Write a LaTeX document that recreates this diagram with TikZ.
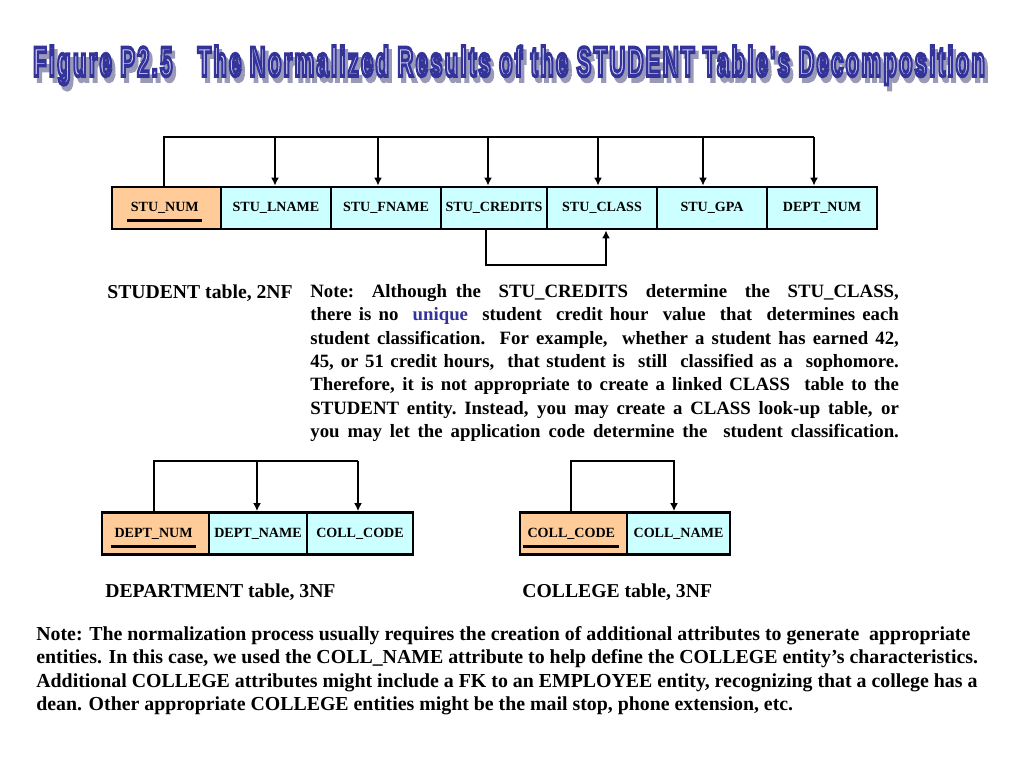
\documentclass[tikz,border=0pt]{standalone}
\usepackage{fontspec}
\setmainfont{Liberation Serif}
\newfontfamily\titlefont[LetterSpace=10]{Liberation Sans}
\usetikzlibrary{arrows.meta}

\definecolor{keyfill}{HTML}{FFCC99}
\definecolor{attrfill}{HTML}{CCFFFF}
\definecolor{titleblue}{HTML}{333399}

\newlength{\keywd}
\newcommand{\pkey}[1]{\settowidth{\keywd}{#1}#1\hspace{-1.05\keywd}\smash{\rule[-6pt]{1.1\keywd}{1.7pt}}\hspace{-0.05\keywd}}
\newcommand{\jline}[1]{\hbox to 335pt{\spaceskip=0.25em plus 1fil\xspaceskip=0.25em plus 1fil #1}}
% outlined text: fill colour, stroke colour (pdf rgb), text
\newcommand{\outlined}[3]{\special{pdf:literal direct q 2 Tr 0.9 w #2 RG #1 rg}#3\special{pdf:literal direct Q}}
\newcommand{\figtitle}{Figure P2.5\ \ \ The Normalized Results of the STUDENT Table's Decomposition}

\begin{document}
\begin{tikzpicture}[x=0.02cm,y=-0.02cm,
    cell/.style={draw, line width=1.6pt, minimum width=#1*0.02cm, minimum height=0.84cm,
                 inner sep=0pt, font=\fontsize{8}{9.6}\selectfont\bfseries},
    keycell/.style={cell=#1, fill=keyfill},
    attcell/.style={cell=#1, fill=attrfill},
    fdline/.style={line width=1.6pt},
    fd/.style={fdline, -{Latex[length=4.5pt,width=4.5pt]}},
    caption/.style={anchor=base west, inner sep=0pt, font=\fontsize{11.2}{13.4}\selectfont\bfseries},
    notetext/.style={anchor=north west, inner sep=0pt, align=left, font=\fontsize{10.7}{13.3}\selectfont\bfseries}]

    \useasboundingbox (0,0) rectangle (1024,768);

    % title
    \node[anchor=base, inner sep=0pt] at (509,76) (title)
        {\resizebox{19.04cm}{0.6cm}{\titlefont\bfseries
         \makebox[0pt][l]{\hspace{1.5pt}\raisebox{-1.2pt}{\outlined{0.6 0.6 0.72}{0.6 0.6 0.72}{\figtitle}}}%
         \outlined{0.8 0.8 0.96}{0.2 0.2 0.6}{\figtitle}}};

    % STUDENT table
    \node[keycell=109] at (166.5,208) (stunum)     {\pkey{STU\_NUM}};
    \node[attcell=110] at (276,208)   (stulname)   {STU\_LNAME};
    \node[attcell=110] at (386,208)   (stufname)   {STU\_FNAME};
    \node[attcell=106] at (494,208)   (stucredits) {STU\_CREDITS};
    \node[attcell=110] at (602,208)   (stuclass)   {STU\_CLASS};
    \node[attcell=110] at (712,208)   (stugpa)     {STU\_GPA};
    \node[attcell=110] at (822,208)   (studept)    {DEPT\_NUM};

    \coordinate (stubar) at (0,137);
    \coordinate (stuloop) at (0,265);
    \draw[fdline] ([xshift=-2.5*0.02cm]stunum.north) -- ([xshift=-2.5*0.02cm]stunum.north |- stubar)
        -- ([xshift=-8*0.02cm]studept.north |- stubar);
    \foreach \n/\dx in {stulname/-1,stufname/-8,stucredits/-6,stuclass/-4,stugpa/-9,studept/-8}
        \draw[fd] ([xshift=\dx*0.02cm]\n.north |- stubar) -- ([xshift=\dx*0.02cm]\n.north);
    \draw[fd] ([xshift=-8*0.02cm]stucredits.south) -- ([xshift=-8*0.02cm]stucredits.south |- stuloop)
        -- ([xshift=4*0.02cm]stuclass.south |- stuloop) -- ([xshift=4*0.02cm]stuclass.south);

    \node[caption] at (107,298) (stucap) {STUDENT table, 2NF};
    \node[notetext, text width=335.7pt] at (310,284) (stunote) {%
        \jline{Note:\ \ Although the\ \ STU\_CREDITS\ \ determine\ \ the\ \ STU\_CLASS,}
        \jline{there is no\ \ {\color{titleblue}unique}\ \ student\ \ credit hour\ \ value\ \ that\ \ determines each}
        \jline{student classification.\ \ For example,\ \ whether a student has earned 42,}
        \jline{45, or 51 credit hours,\ \ that student is\ \ still\ \ classified as a\ \ sophomore.}
        \jline{Therefore, it is not appropriate to create a linked CLASS\ \ table to the}
        \jline{STUDENT entity. Instead, you may create a CLASS look-up table, or}
        \jline{you may let the application code determine the\ \ student classification.}};

    % DEPARTMENT table
    \node[keycell=107] at (155.5,533.5) (deptnum)  {\pkey{DEPT\_NUM}};
    \node[attcell=98]  at (258,533.5)   (deptname) {DEPT\_NAME};
    \node[attcell=106] at (360,533.5)   (deptcoll) {COLL\_CODE};

    \coordinate (deptbar) at (0,461);
    \draw[fdline] ([xshift=-1.5*0.02cm]deptnum.north) -- ([xshift=-1.5*0.02cm]deptnum.north |- deptbar)
        -- ([xshift=-2*0.02cm]deptcoll.north |- deptbar);
    \foreach \n/\dx in {deptname/-1,deptcoll/-2}
        \draw[fd] ([xshift=\dx*0.02cm]\n.north |- deptbar) -- ([xshift=\dx*0.02cm]\n.north);

    \node[caption] at (105,597) (deptcap) {DEPARTMENT table, 3NF};

    % COLLEGE table
    \node[keycell=107] at (573.5,533.5) (collcode) {\pkey{COLL\_CODE}};
    \node[attcell=103] at (678.5,533.5) (collname) {COLL\_NAME};

    \draw[fd] ([xshift=-2.5*0.02cm]collcode.north) -- ([xshift=-2.5*0.02cm]collcode.north |- deptbar)
        -- ([xshift=-4.5*0.02cm]collname.north |- deptbar) -- ([xshift=-4.5*0.02cm]collname.north);

    \node[caption] at (522,597) (collcap) {COLLEGE table, 3NF};

    % closing note
    \node[notetext, font=\fontsize{11.3}{13.4}\selectfont\bfseries] at (36,626) (endnote) {%
        Note: The normalization process usually requires the creation of additional attributes to generate\ \ appropriate\\
        entities. In this case, we used the COLL\_NAME attribute to help define the COLLEGE entity’s characteristics.\\
        Additional COLLEGE attributes might include a FK to an EMPLOYEE entity, recognizing that a college has a\\
        dean. Other appropriate COLLEGE entities might be the mail stop, phone extension, etc.};
\end{tikzpicture}
\end{document}
